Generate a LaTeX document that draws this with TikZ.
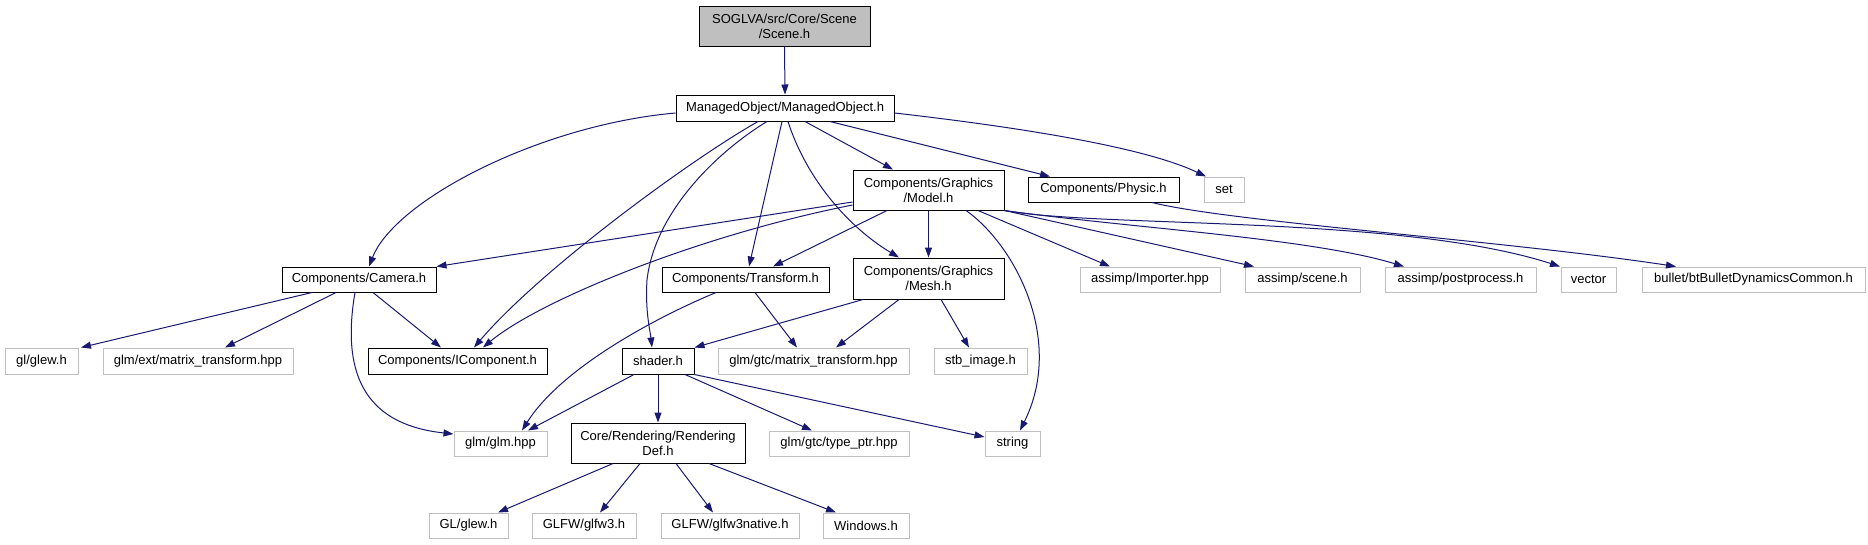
\documentclass[tikz,border=0pt]{standalone}
\usepackage{fontspec}
\setmainfont{Liberation Sans}
\usetikzlibrary{arrows.meta}
\definecolor{edgeblue}{HTML}{191970}
\definecolor{grayb}{HTML}{BFBFBF}
\begin{document}
\begin{tikzpicture}[x=1pt,y=-1pt,
 box/.style={draw=black, line width=1pt, rectangle, inner sep=0pt, align=center, font=\fontsize{13}{15}\selectfont, minimum height=25pt},
 gbox/.style={box, draw=grayb},
 edge/.style={draw=edgeblue, line width=1pt, -{Triangle[length=10pt,width=7pt]}},
]
\useasboundingbox (0,0) rectangle (1868,544);
% nodes
\node[box, fill=grayb, minimum width=171pt, minimum height=40pt] (scene) at (784.5,26) {SOGLVA/src/Core/Scene\\/Scene.h};
\node[box, minimum width=218pt, minimum height=26pt] (mo) at (785,108) {ManagedObject/ManagedObject.h};
\node[box, minimum width=151pt, minimum height=40pt] (model) at (928.5,190) {Components/Graphics\\/Model.h};
\node[box, minimum width=151pt] (physic) at (1103.5,189.5) {Components/Physic.h};
\node[gbox, minimum width=40pt] (set) at (1224,189.5) {set};
\node[box, minimum width=154pt] (camera) at (359,279.5) {Components/Camera.h};
\node[box, minimum width=167pt] (transform) at (745.5,279.5) {Components/Transform.h};
\node[box, minimum width=151pt, minimum height=41pt] (mesh) at (928.5,278.5) {Components/Graphics\\/Mesh.h};
\node[gbox, minimum width=140pt] (importer) at (1150,279.5) {assimp/Importer.hpp};
\node[gbox, minimum width=115pt] (ascene) at (1302.5,279.5) {assimp/scene.h};
\node[gbox, minimum width=151pt] (postproc) at (1460.5,279.5) {assimp/postprocess.h};
\node[gbox, minimum width=55pt] (vector) at (1588.5,279.5) {vector};
\node[gbox, minimum width=223pt] (bullet) at (1753.5,279.5) {bullet/btBulletDynamicsCommon.h};
\node[gbox, minimum width=73pt, minimum height=26pt] (glew) at (41.5,361) {gl/glew.h};
\node[gbox, minimum width=190pt, minimum height=26pt] (extmt) at (198,361) {glm/ext/matrix\_transform.hpp};
\node[box, minimum width=179pt, minimum height=26pt] (icomp) at (457.5,361) {Components/IComponent.h};
\node[box, minimum width=72pt, minimum height=26pt] (shader) at (658,361) {shader.h};
\node[gbox, minimum width=191pt, minimum height=26pt] (gtcmt) at (813.5,361) {glm/gtc/matrix\_transform.hpp};
\node[gbox, minimum width=93pt, minimum height=26pt] (stb) at (980.5,361) {stb\_image.h};
\node[gbox, minimum width=93pt] (glm) at (500.5,443.5) {glm/glm.hpp};
\node[box, minimum width=174pt, minimum height=40pt] (rdef) at (658,443) {Core/Rendering/Rendering\\Def.h};
\node[gbox, minimum width=140pt] (typeptr) at (839,443.5) {glm/gtc/type\_ptr.hpp};
\node[gbox, minimum width=55pt] (string) at (1012.5,443.5) {string};
\node[gbox, minimum width=79pt] (GLglew) at (468.5,525.5) {GL/glew.h};
\node[gbox, minimum width=104pt] (glfw3) at (584,525.5) {GLFW/glfw3.h};
\node[gbox, minimum width=138pt] (glfw3native) at (730,525.5) {GLFW/glfw3native.h};
\node[gbox, minimum width=86pt] (windows) at (866,525.5) {Windows.h};
% edges
\draw[edge] (scene.south) -- (mo.north);
\draw[edge] ([yshift=-5pt]mo.west) .. controls (540,125) and (395,200) .. ([xshift=10pt]camera.north);
\draw[edge] ([xshift=-27pt]mo.south) .. controls (690,160) and (540,270) .. ([xshift=16.5pt]icomp.north);
\draw[edge] ([xshift=-18pt]mo.south) .. controls (720,150) and (655,210) .. (647,280) .. controls (645,310) and (650,330) .. ([xshift=-6pt]shader.north);
\draw[edge] ([xshift=-3pt]mo.south) -- ([xshift=3.5pt]transform.north);
\draw[edge] ([xshift=3pt]mo.south) .. controls (805,175) and (845,225) .. ([xshift=-29.5pt]mesh.north);
\draw[edge] ([xshift=20pt]mo.south) -- ([xshift=-35.5pt]model.north);
\draw[edge] ([xshift=45pt]mo.south) -- ([xshift=-53.5pt]physic.north);
\draw[edge] ([yshift=-5pt]mo.east) .. controls (1000,125) and (1140,145) .. ([xshift=-18pt]set.north);
\draw[edge] ([yshift=-12pt]model.west) -- (camera.north east);
\draw[edge] ([yshift=-15pt]model.west) .. controls (700,235) and (540,300) .. ([xshift=25.5pt]icomp.north);
\draw[edge] ([xshift=-41.5pt]model.south) -- ([xshift=27.5pt]transform.north);
\draw[edge] (model.south) -- (mesh.north);
\draw[edge] ([xshift=37.5pt]model.south) .. controls (1015,245) and (1065,340) .. ([xshift=7.5pt]string.north);
\draw[edge] ([xshift=49.5pt]model.south) -- ([xshift=-40pt]importer.north);
\draw[edge] (model.south east) -- ([xshift=-48.5pt]ascene.north);
\draw[edge] (model.south east) .. controls (1130,228) and (1310,238) .. ([xshift=-56.5pt]postproc.north);
\draw[edge] (model.south east) .. controls (1100,228) and (1400,215) .. ([xshift=-28.5pt]vector.north);
\draw[edge] ([xshift=48.5pt]physic.south) .. controls (1230,222) and (1500,240) .. ([xshift=-77.5pt]bullet.north);
\draw[edge] ([xshift=-47pt]camera.south) -- ([xshift=39.5pt]glew.north);
\draw[edge] ([xshift=-23pt]camera.south) -- ([xshift=27pt]extmt.north);
\draw[edge] ([xshift=14pt]camera.south) -- ([xshift=-16.5pt]icomp.north);
\draw[edge] ([xshift=-4pt]camera.south) .. controls (340,380) and (370,425) .. ([yshift=9.5pt]glm.west);
\draw[edge] ([xshift=-29.5pt]transform.south) .. controls (650,320) and (560,370) .. ([xshift=21.5pt]glm.north);
\draw[edge] ([xshift=9.5pt]transform.south) -- ([xshift=-16.5pt]gtcmt.north);
\draw[edge] ([xshift=-65.5pt]mesh.south) -- (shader.north east);
\draw[edge] ([xshift=-29.5pt]mesh.south) -- ([xshift=22.5pt]gtcmt.north);
\draw[edge] ([xshift=12.5pt]mesh.south) -- ([xshift=-11.5pt]stb.north);
\draw[edge] ([xshift=-24pt]shader.south) -- ([xshift=27.5pt]glm.north);
\draw[edge] (shader.south) -- (rdef.north);
\draw[edge] ([xshift=27pt]shader.south) -- ([xshift=-27pt]typeptr.north);
\draw[edge] (shader.south east) -- ([yshift=6.5pt]string.west);
\draw[edge] ([xshift=-45pt]rdef.south) -- ([xshift=29.5pt]GLglew.north);
\draw[edge] ([xshift=-18pt]rdef.south) -- ([xshift=16pt]glfw3.north);
\draw[edge] ([xshift=18pt]rdef.south) -- ([xshift=-17pt]glfw3native.north);
\draw[edge] ([xshift=51pt]rdef.south) -- ([xshift=-30pt]windows.north);
\end{tikzpicture}
\end{document}
